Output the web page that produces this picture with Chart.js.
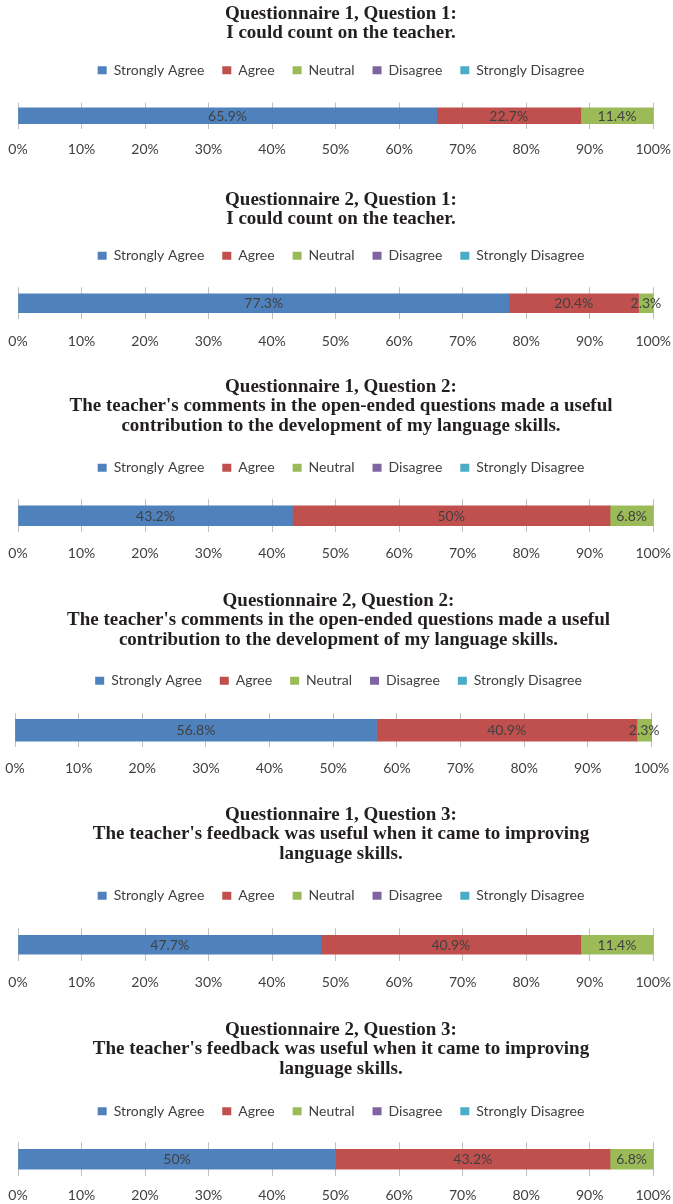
<!DOCTYPE html>
<html>
<head>
<meta charset="utf-8">
<script src="https://cdn.jsdelivr.net/npm/chart.js@4.4.1/dist/chart.umd.min.js"></script>
<style>
  html, body { margin: 0; padding: 0; background: #ffffff; }
  body { width: 673px; height: 1204px; position: relative; overflow: hidden; }
  canvas { position: absolute; left: 0; }
</style>
</head>
<body>
<script>
// ---------- DATA ----------
const seriesNames = ['Strongly Agree', 'Agree', 'Neutral', 'Disagree', 'Strongly Disagree'];
const tickLabels = ['0%', '10%', '20%', '30%', '40%', '50%', '60%', '70%', '80%', '90%', '100%'];

const titleQ1_1 = ['Questionnaire 1, Question 1:', 'I could count on the teacher.'];
const titleQ2_1 = ['Questionnaire 2, Question 1:', 'I could count on the teacher.'];
const titleQ1_2 = ['Questionnaire 1, Question 2:', "The teacher's comments in the open-ended questions made a useful", 'contribution to the development of my language skills.'];
const titleQ2_2 = ['Questionnaire 2, Question 2:', "The teacher's comments in the open-ended questions made a useful", 'contribution to the development of my language skills.'];
const titleQ1_3 = ['Questionnaire 1, Question 3:', "The teacher's feedback was useful when it came to improving", 'language skills.'];
const titleQ2_3 = ['Questionnaire 2, Question 3:', "The teacher's feedback was useful when it came to improving", 'language skills.'];

// values per series: [Strongly Agree, Agree, Neutral, Disagree, Strongly Disagree] in %
const valuesQ1_1 = [65.9, 22.7, 11.4, 0, 0];
const valuesQ2_1 = [77.3, 20.4, 2.3, 0, 0];
const valuesQ1_2 = [43.2, 50, 6.8, 0, 0];
const valuesQ2_2 = [56.8, 40.9, 2.3, 0, 0];
const valuesQ1_3 = [47.7, 40.9, 11.4, 0, 0];
const valuesQ2_3 = [50, 43.2, 6.8, 0, 0];

// ---------- STYLE / LAYOUT ----------
const colors = ['#4F81BD', '#C0504D', '#9BBB59', '#8064A2', '#4BACC6'];
const SANS = 'Lato, "Open Sans", sans-serif';
const SERIF = '"Liberation Serif", "Times New Roman", serif';
const LH = 19.5;        // title line height
const LEG_PAD = 18;     // legend label padding
const LEG_FONT = 14;
const TICK_PAD = 2;
const LABEL_LH = 16.8;

const panels = [
  { title: titleQ1_1, values: valuesQ1_1, t1: 14,     leg: 70.5,  top: 103,  bot: 129,  lab: 150,  bar: 16, caL: 18, caR: 654,   cx: 341 },
  { title: titleQ2_1, values: valuesQ2_1, t1: 199.5,  leg: 255.5, top: 287,  bot: 319,  lab: 341,  bar: 19, caL: 18, caR: 654,   cx: 341 },
  { title: titleQ1_2, values: valuesQ1_2, t1: 386.5,  leg: 467.5, top: 499,  bot: 532,  lab: 553,  bar: 20, caL: 18, caR: 654,   cx: 341 },
  { title: titleQ2_2, values: valuesQ2_2, t1: 600.5,  leg: 680.5, top: 713,  bot: 747,  lab: 768,  bar: 22, caL: 15, caR: 651.5, cx: 338.5 },
  { title: titleQ1_3, values: valuesQ1_3, t1: 814.5,  leg: 895.5, top: 928,  bot: 961,  lab: 982,  bar: 19, caL: 18, caR: 654,   cx: 341 },
  { title: titleQ2_3, values: valuesQ2_3, t1: 1029.5, leg: 1111,  top: 1142, bot: 1176, lab: 1195, bar: 20, caL: 18, caR: 654,   cx: 341 }
];

const barLabels = {
  id: 'barLabels',
  afterDatasetsDraw(chart) {
    const ctx = chart.ctx;
    ctx.save();
    ctx.font = LEG_FONT + 'px ' + SANS;
    ctx.fillStyle = '#404040';
    ctx.textAlign = 'center';
    ctx.textBaseline = 'middle';
    chart.data.datasets.forEach((ds, di) => {
      const meta = chart.getDatasetMeta(di);
      meta.data.forEach((el, i) => {
        const v = ds.data[i];
        if (!v) return;
        ctx.fillText(v + '%', (el.x + el.base) / 2, el.y + 0.5);
      });
    });
    ctx.restore();
  }
};

panels.forEach((P) => {
  const n = P.title.length;
  const T = P.t1 - LH / 2;
  const titleBottomPad = P.leg - LEG_FONT / 2 - LEG_PAD - T - n * LH;
  const spacer = P.top - (P.leg + LEG_FONT / 2 + 10);
  const tickLen = P.lab - P.bot - TICK_PAD - LABEL_LH / 2;
  const scaleH = tickLen + LABEL_LH + 2 * TICK_PAD;
  const H = Math.ceil(P.bot - T + scaleH + 3);
  const padB = H - scaleH - (P.bot - T);
  // horizontal: outer padding so title/legend centre at cx, side "axes" to place plot area
  const padL = Math.max(0, 2 * P.cx - 673);
  const padR = Math.max(0, 673 - 2 * P.cx);
  const wL = P.caL - padL;
  const wR = (673 - P.caR) - padR;

  const cv = document.createElement('canvas');
  cv.width = 673; cv.height = H;
  cv.style.top = T + 'px';
  cv.style.width = '673px'; cv.style.height = H + 'px';
  document.body.appendChild(cv);

  const hiddenSide = (pos, w) => ({
    type: 'category', position: pos, labels: [''], display: true,
    grid: { display: false }, ticks: { display: false }, border: { display: false },
    afterFit: (s) => { s.width = w; }
  });

  new Chart(cv, {
    type: 'bar',
    data: {
      labels: [''],
      datasets: seriesNames.map((name, k) => ({
        label: name,
        data: [P.values[k]],
        backgroundColor: colors[k],
        borderWidth: 0,
        barThickness: P.bar
      }))
    },
    options: {
      indexAxis: 'y',
      responsive: false,
      animation: false,
      devicePixelRatio: 1,
      layout: { padding: { left: padL, right: padR, top: 0, bottom: padB } },
      scales: {
        x: {
          stacked: true, min: 0, max: 100,
          ticks: {
            stepSize: 10,
            padding: TICK_PAD,
            color: '#404040',
            font: { family: SANS, size: 14, lineHeight: 1.2 },
            callback: (v, i) => tickLabels[i],
            maxRotation: 0, autoSkip: false
          },
          grid: { color: '#BFBFBF', lineWidth: 1, drawTicks: true, tickLength: tickLen, tickColor: 'rgba(0,0,0,0)' },
          border: { display: false }
        },
        y: Object.assign(hiddenSide('left', wL), { stacked: true }),
        y2: hiddenSide('right', wR)
      },
      plugins: {
        title: {
          display: true,
          text: P.title,
          color: '#231F20',
          font: { family: SERIF, size: 19, weight: 'bold', lineHeight: LH + 'px' },
          padding: { top: 0, bottom: titleBottomPad }
        },
        subtitle: {
          display: true,
          position: 'top',
          weight: 100,
          text: ' ',
          font: { size: 1, lineHeight: '1px' },
          padding: { top: Math.max(0, spacer - 1), bottom: 0 }
        },
        legend: {
          display: true,
          position: 'top',
          labels: {
            boxWidth: 9, boxHeight: 8,
            padding: LEG_PAD,
            color: '#404040',
            font: { family: SANS, size: LEG_FONT }
          }
        },
        tooltip: { enabled: false }
      }
    },
    plugins: [barLabels]
  });
});
</script>
</body>
</html>
